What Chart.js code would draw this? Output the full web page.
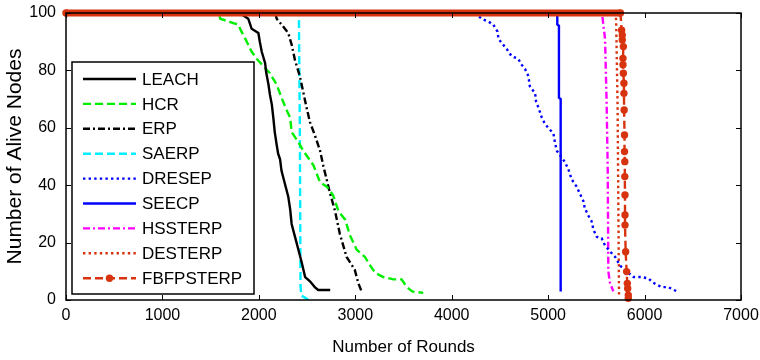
<!DOCTYPE html>
<html>
<head>
<meta charset="utf-8">
<title>Alive nodes</title>
<script src="https://cdn.jsdelivr.net/npm/chart.js"></script>
<style>
  body { margin: 0; background: #fff; }
  #wrap { width: 760px; height: 360px; }
</style>
</head>
<body>
<div id="wrap"><canvas id="myChart"></canvas></div>
<script>
//------------------------------------------------------------------------------
// data
//------------------------------------------------------------------------------
var xTicks = [0, 1000, 2000, 3000, 4000, 5000, 6000, 7000];
var yTicks = [0, 20, 40, 60, 80, 100];

var seriesNames = ['LEACH', 'HCR', 'ERP', 'SAERP', 'DRESEP', 'SEECP', 'HSSTERP', 'DESTERP', 'FBFPSTERP'];

var leachX = [0, 1800, 1890, 1910, 1925, 1995, 2010, 2030, 2065, 2075, 2100, 2115, 2135, 2150, 2165, 2185, 2200, 2220, 2235, 2270, 2305, 2325, 2340, 2375, 2410, 2445, 2480, 2530, 2580, 2615, 2740];
var leachY = [100, 100, 98, 96, 94.5, 93, 90, 86.5, 82.5, 79.5, 75, 71.5, 68, 63.5, 58.5, 54, 51, 49, 45, 40.5, 36, 31.5, 26.5, 22, 17.5, 13, 8, 6.5, 4.5, 3.5, 3.5];

var hcrX = [0, 1580, 1600, 1735, 1785, 1820, 1875, 1925, 1980, 2045, 2115, 2185, 2235, 2290, 2325, 2340, 2410, 2460, 2565, 2635, 2705, 2770, 2825, 2895, 2945, 3015, 3100, 3155, 3205, 3290, 3395, 3480, 3535, 3590, 3705];
var hcrY = [100, 100, 98, 96.5, 96, 93.5, 90, 86.5, 84, 81.5, 79, 75, 70.5, 66, 63.5, 58.5, 55, 52, 47, 41, 39.5, 36.5, 31, 28, 22.5, 17.5, 15, 12, 9.5, 8, 7.2, 7.2, 4.5, 3, 2.5];

var erpX = [0, 2170, 2185, 2235, 2305, 2340, 2375, 2425, 2460, 2495, 2530, 2580, 2635, 2670, 2740, 2790, 2840, 2910, 2995, 3030, 3065];
var erpY = [100, 100, 98, 96, 93, 89, 83.5, 78, 72.5, 67, 62, 57.5, 52, 46.5, 37, 31, 23, 15, 10.5, 6, 3];

var saerpX = [0, 2415, 2425, 2432, 2440, 2470, 2515];
var saerpY = [100, 100, 60, 5, 1.5, 1, 0];

var dresepX = [0, 4240, 4310, 4380, 4430, 4475, 4485, 4520, 4570, 4620, 4690, 4725, 4760, 4795, 4810, 4865, 4875, 4900, 4935, 4965, 5000, 5055, 5070, 5090, 5175, 5210, 5245, 5295, 5330, 5365, 5380, 5415, 5450, 5470, 5505, 5555, 5590, 5640, 5695, 5745, 5795, 5885, 5970, 6040, 6090, 6175, 6245, 6335];
var dresepY = [100, 100, 98, 97, 96, 93.5, 91, 89.5, 87.5, 85, 84, 82, 80.5, 78, 74.5, 72, 69, 67, 63.5, 61.5, 60, 58, 55, 52, 48, 45.5, 42, 39.5, 37, 34.5, 32, 29.5, 27.5, 24.5, 22, 21.5, 19, 17, 15, 12, 10.5, 8, 8, 7.5, 6, 4.5, 4.5, 3];

var seecpX = [0, 5095, 5095, 5112, 5112, 5130, 5130];
var seecpY = [100, 100, 96, 95.5, 70.5, 70, 3];

var hssterpX = [0, 5560, 5565, 5590, 5607, 5618, 5624, 5641, 5676];
var hssterpY = [100, 100, 98, 91, 68, 45, 10, 6, 3];

var desterpX = [0, 5700, 5705, 5720, 5728, 5735];
var desterpY = [100, 100, 97.5, 68, 33, 1.5];

var fbfpX = [0, 5750, 5762, 5769, 5769, 5780, 5776, 5776, 5780, 5786, 5786, 5788, 5792, 5792, 5795, 5795, 5797, 5797, 5797, 5804, 5814, 5821, 5825, 5831, 5831];
var fbfpY = [100, 100, 94, 92.3, 90.6, 88.3, 84.2, 82, 79, 75.5, 72, 66.2, 57.5, 51.7, 48.2, 43, 36.6, 29.6, 26.1, 16.8, 9.9, 5.8, 4, 1.7, 0.6];

//------------------------------------------------------------------------------
// helpers
//------------------------------------------------------------------------------
function pts(xs, ys) {
  return xs.map(function (x, i) { return { x: x, y: ys[i] }; });
}

var RED = '#d8330f';
var FONT = '"Liberation Sans", Arial, sans-serif';

function lineSet(name, xs, ys, color, dash, extra) {
  var ds = {
    label: name,
    data: pts(xs, ys),
    borderColor: color,
    backgroundColor: color,
    borderWidth: 2.4,
    borderDash: dash,
    pointRadius: 0,
    tension: 0,
    fill: false
  };
  for (var k in extra) ds[k] = extra[k];
  return ds;
}

//------------------------------------------------------------------------------
// frame + inward ticks like matlab
//------------------------------------------------------------------------------
var framePlugin = {
  id: 'frame',
  afterDraw: function (chart) {
    var ctx = chart.ctx, a = chart.chartArea;
    var sx = chart.scales.x, sy = chart.scales.y;
    var len = 5;
    ctx.save();
    ctx.strokeStyle = '#000';
    ctx.lineWidth = 1;
    ctx.setLineDash([]);
    xTicks.forEach(function (v) {
      var px = Math.round(sx.getPixelForValue(v)) + 0.5;
      ctx.beginPath();
      ctx.moveTo(px, a.bottom); ctx.lineTo(px, a.bottom - len);
      ctx.moveTo(px, a.top); ctx.lineTo(px, a.top + len);
      ctx.stroke();
    });
    yTicks.forEach(function (v) {
      var py = Math.round(sy.getPixelForValue(v)) + 0.5;
      ctx.beginPath();
      ctx.moveTo(a.left, py); ctx.lineTo(a.left + len, py);
      ctx.moveTo(a.right, py); ctx.lineTo(a.right - len, py);
      ctx.stroke();
    });
    ctx.lineWidth = 1.5;
    ctx.strokeRect(a.left, a.top, a.right - a.left, a.bottom - a.top);
    ctx.restore();
  }
};

//------------------------------------------------------------------------------
// legend box inside the axes
//------------------------------------------------------------------------------
var boxLegend = {
  id: 'boxLegend',
  afterDatasetsDraw: function (chart) {
    var ctx = chart.ctx, a = chart.chartArea;
    var bx = a.left + 6, by = a.top + 49, bw = 182, bh = 232;
    var row0 = 17, rowH = 24.9;
    ctx.save();
    ctx.fillStyle = '#fff';
    ctx.fillRect(bx, by, bw, bh);
    ctx.strokeStyle = '#000';
    ctx.lineWidth = 1.5;
    ctx.setLineDash([]);
    ctx.strokeRect(bx, by, bw, bh);
    ctx.font = '17px ' + FONT;
    ctx.textBaseline = 'middle';
    chart.data.datasets.forEach(function (ds, i) {
      var y = by + row0 + i * rowH;
      ctx.strokeStyle = ds.borderColor;
      ctx.lineWidth = ds.borderWidth;
      ctx.setLineDash(ds.borderDash || []);
      ctx.beginPath();
      ctx.moveTo(bx + 11, y);
      ctx.lineTo(bx + 64, y);
      ctx.stroke();
      if (ds.pointRadius > 0) {
        ctx.fillStyle = ds.borderColor;
        ctx.beginPath();
        ctx.arc(bx + 37.5, y, ds.pointRadius, 0, Math.PI * 2);
        ctx.fill();
      }
      ctx.fillStyle = '#000';
      ctx.fillText(ds.label, bx + 70, y + 1);
    });
    ctx.restore();
  }
};

//------------------------------------------------------------------------------
// chart
//------------------------------------------------------------------------------
var datasets = [
  lineSet(seriesNames[0], leachX, leachY, '#000000', []),
  lineSet(seriesNames[1], hcrX, hcrY, '#00ee00', [8, 4]),
  lineSet(seriesNames[2], erpX, erpY, '#000000', [7, 3, 2, 3]),
  lineSet(seriesNames[3], saerpX, saerpY, '#00eeff', [8, 4]),
  lineSet(seriesNames[4], dresepX, dresepY, '#0000ff', [2.4, 3.2]),
  lineSet(seriesNames[5], seecpX, seecpY, '#0000ff', []),
  lineSet(seriesNames[6], hssterpX, hssterpY, '#ff00ff', [7, 3, 2, 3]),
  lineSet(seriesNames[7], desterpX, desterpY, RED, [2.4, 3.2]),
  lineSet(seriesNames[8], fbfpX, fbfpY, RED, [8, 4], {
    order: -1,
    clip: false,
    pointRadius: 3.7,
    pointBorderWidth: 0,
    pointBackgroundColor: RED,
    segment: {
      borderWidth: function (c) { return c.p0DataIndex === 0 ? 7 : undefined; },
      borderDash: function (c) { return c.p0DataIndex === 0 ? [] : undefined; }
    }
  })
];

function plainLabel(v) { return String(v); }

var ctx = document.getElementById('myChart').getContext('2d');
var chart = new Chart(ctx, {
  type: 'line',
  data: { datasets: datasets },
  options: {
    responsive: true,
    maintainAspectRatio: false,
    animation: false,
    layout: { padding: { left: 2, right: 19, top: 13, bottom: 0 } },
    plugins: {
      legend: { display: false },
      tooltip: { enabled: false }
    },
    scales: {
      x: {
        type: 'linear',
        min: 0, max: 7000,
        grid: { display: false, drawTicks: false, tickLength: 0 },
        border: { display: false },
        afterBuildTicks: function (s) { s.ticks = xTicks.map(function (v) { return { value: v }; }); },
        afterFit: function (s) { s.height = 60; s.paddingLeft = 0; s.paddingRight = 0; },
        ticks: { color: '#000', padding: 6, callback: plainLabel, font: { family: FONT, size: 16 }, maxRotation: 0 },
        title: { display: true, text: 'Number of Rounds', color: '#000', padding: { top: 6, bottom: 2 }, font: { family: FONT, size: 17 } }
      },
      y: {
        min: 0, max: 100,
        grid: { display: false, drawTicks: false, tickLength: 0 },
        border: { display: false },
        afterBuildTicks: function (s) { s.ticks = yTicks.map(function (v) { return { value: v }; }); },
        afterFit: function (s) { s.width = 64; s.paddingTop = 0; s.paddingBottom = 0; },
        ticks: { color: '#000', padding: 10, callback: plainLabel, font: { family: FONT, size: 16 } },
        title: { display: true, text: 'Number of Alive Nodes', color: '#000', padding: { top: 1, bottom: 2 }, font: { family: FONT, size: 21 } }
      }
    }
  },
  plugins: [framePlugin, boxLegend]
});
</script>
</body>
</html>
